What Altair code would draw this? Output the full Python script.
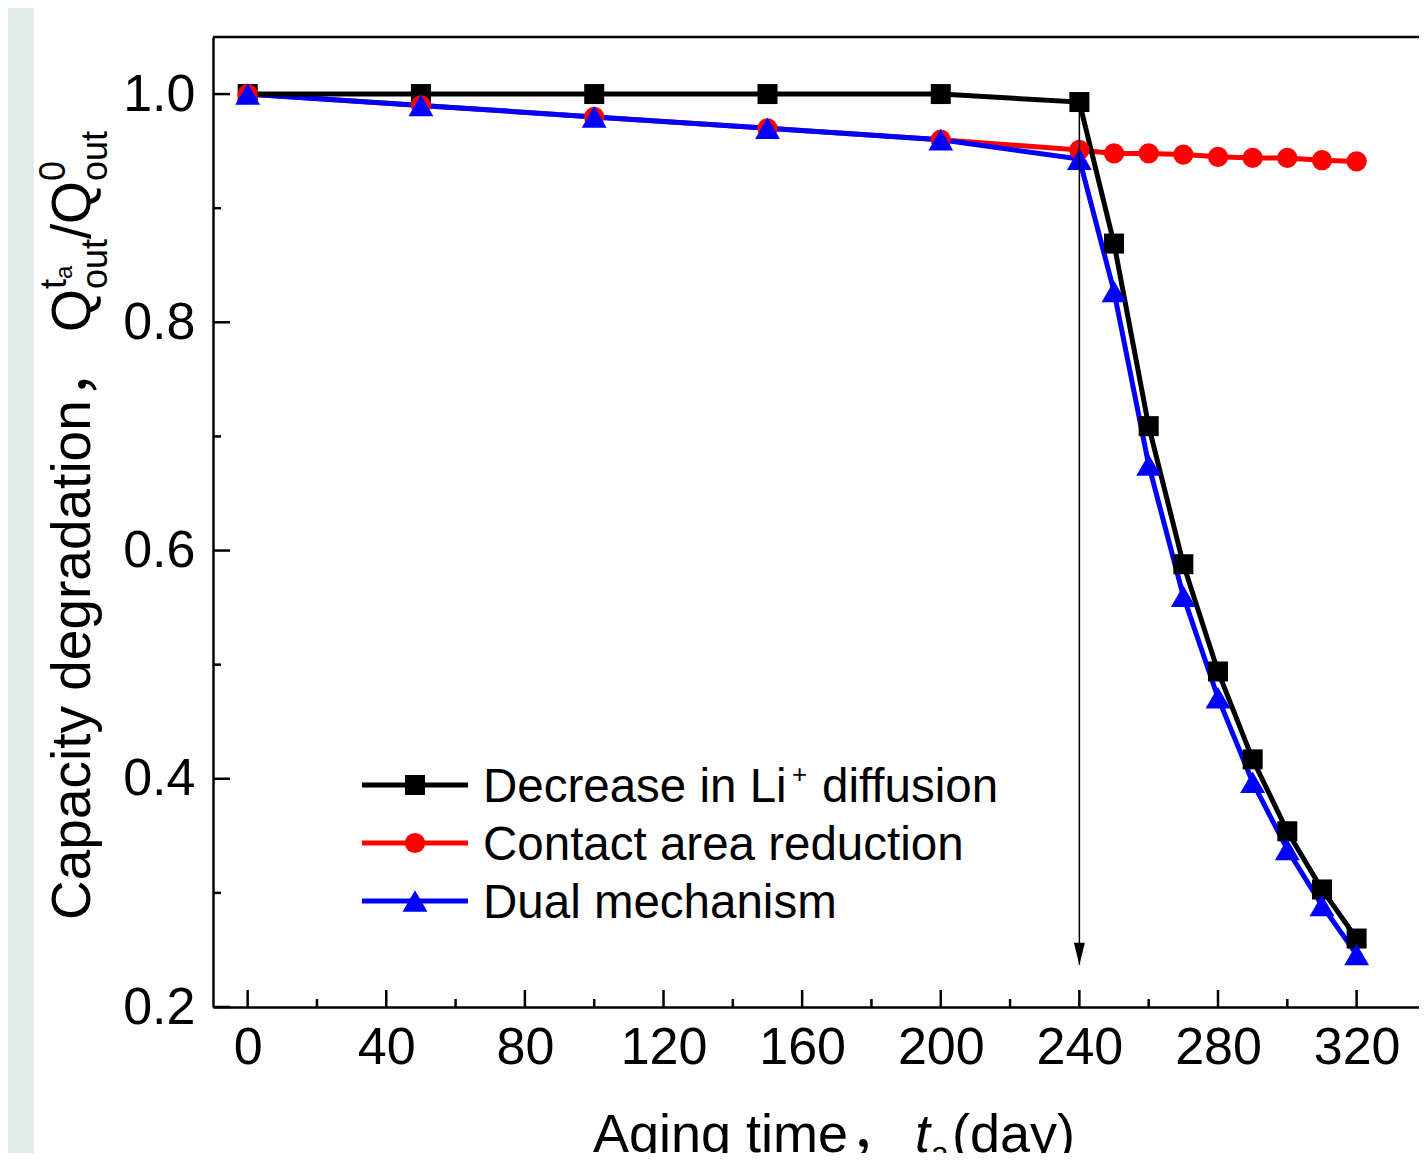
import altair as alt
import pandas as pd

# ---------------- data ----------------
days = [0, 50, 100, 150, 200, 240, 250, 260, 270, 280, 290, 300, 310, 320]
black_vals = [1.0, 1.0, 1.0, 1.0, 1.0, 0.993, 0.869, 0.709, 0.588, 0.494, 0.417, 0.354, 0.303, 0.260]
red_vals = [1.0, 0.990, 0.980, 0.970, 0.960, 0.951, 0.948, 0.948, 0.947, 0.945, 0.944, 0.944, 0.942, 0.941]
blue_vals = [1.0, 0.990, 0.980, 0.970, 0.960, 0.943, 0.827, 0.675, 0.560, 0.471, 0.397, 0.338, 0.289, 0.246]

series_names = ["Decrease in Li+ diffusion", "Contact area reduction", "Dual mechanism"]
series_colors = ["#000000", "#ff0000", "#0000ff"]
series_shapes = ["square", "circle", "triangle-up"]

x_ticks_major = [0, 40, 80, 120, 160, 200, 240, 280, 320]
x_ticks_minor = [20, 60, 100, 140, 180, 220, 260, 300]
y_ticks_major = [0.2, 0.4, 0.6, 0.8, 1.0]
y_ticks_minor = [0.3, 0.5, 0.7, 0.9]

arrow_day = [240]
arrow_top = [0.986]
arrow_tip = [0.237]

X_DOMAIN = [-10, 338]
Y_DOMAIN = [0.2, 1.05]
W, H = 1206, 970
FONT = "Liberation Sans"

# ---------------- scales / axes ----------------
xs = alt.Scale(domain=X_DOMAIN, nice=False, zero=False)
ys = alt.Scale(domain=Y_DOMAIN, nice=False, zero=False)
x_axis = alt.Axis(values=x_ticks_major, format="d", title=None, ticks=False,
                  labelPadding=15, labelFontSize=52, grid=False, zindex=1)
y_axis = alt.Axis(values=y_ticks_major, format=".1f", title=None, ticks=False,
                  labelPadding=18, labelFontSize=52, grid=False, zindex=1)


def X(field):
    return alt.X(field, type="quantitative", scale=xs, axis=x_axis)


def Y(field):
    return alt.Y(field, type="quantitative", scale=ys, axis=y_axis)


one = alt.Data(values=[{"k": 0}])

# white panel on top of greenish page background
panel = alt.Chart(one).mark_rect(color="white").encode(
    x=alt.value(34 - 213), x2=alt.value(W + 50),
    y=alt.value(-60), y2=alt.value(H + 300))

dfs = []
for name, vals in zip(series_names, [black_vals, red_vals, blue_vals]):
    dfs.append(pd.DataFrame({"day": days, "value": vals, "series": name}))


def line_layer(i):
    return alt.Chart(dfs[i]).mark_line(color=series_colors[i], strokeWidth=5).encode(
        x=X("day"), y=Y("value"))


def point_layer(i, size):
    return alt.Chart(dfs[i]).mark_point(
        shape=series_shapes[i], filled=True, opacity=1, size=size,
        color=series_colors[i], strokeWidth=0).encode(x=X("day"), y=Y("value"))


sizes = [400, 410, 620]

# ticks (drawn inward)
xmaj = pd.DataFrame({"day": x_ticks_major})
xmin = pd.DataFrame({"day": x_ticks_minor})
ymaj = pd.DataFrame({"value": y_ticks_major})
ymin = pd.DataFrame({"value": y_ticks_minor})
tick_layers = [
    alt.Chart(xmaj).mark_rule(color="black", strokeWidth=2.5).encode(
        x=X("day"), y=alt.value(H), y2=alt.value(H - 17)),
    alt.Chart(xmin).mark_rule(color="black", strokeWidth=2.5).encode(
        x=X("day"), y=alt.value(H), y2=alt.value(H - 8)),
    alt.Chart(ymaj).mark_rule(color="black", strokeWidth=2.5).encode(
        y=Y("value"), x=alt.value(0), x2=alt.value(17)),
    alt.Chart(ymin).mark_rule(color="black", strokeWidth=2.5).encode(
        y=Y("value"), x=alt.value(0), x2=alt.value(8)),
]

top_frame = alt.Chart(one).mark_rule(color="black", strokeWidth=2.5).encode(
    y=alt.value(0), x=alt.value(0), x2=alt.value(W + 20))

# arrow
arrow_df = pd.DataFrame({"day": arrow_day, "value": arrow_top, "value2": arrow_tip})
arrow_line = alt.Chart(arrow_df).mark_rule(color="black", strokeWidth=1.5).encode(
    x=X("day"), y=Y("value"), y2=alt.Y2("value2"))
arrow_head_df = pd.DataFrame({"day": arrow_day, "value": arrow_tip})
arrow_head = alt.Chart(arrow_head_df).mark_point(
    shape="M-0.5,-1L0.5,-1L0,1Z", size=484, filled=True, opacity=1,
    color="black", strokeWidth=0, yOffset=-11).encode(x=X("day"), y=Y("value"))

# legend (manual)
leg_rows = [765, 823, 881]
legend_layers = []
for i in range(3):
    cy = leg_rows[i] - 17
    legend_layers.append(alt.Chart(one).mark_rule(color=series_colors[i], strokeWidth=5).encode(
        x=alt.value(149), x2=alt.value(255), y=alt.value(cy)))
    legend_layers.append(alt.Chart(one).mark_point(
        shape=series_shapes[i], filled=True, opacity=1, size=sizes[i],
        color=series_colors[i], strokeWidth=0).encode(x=alt.value(202), y=alt.value(cy)))


def txt(s, x, y, size, angle=0, italic=False, baseline="alphabetic", font=FONT):
    kw = dict(text=s, fontSize=size, font=font, color="black", align="left",
              baseline=baseline)
    if angle:
        kw["angle"] = angle
    if italic:
        kw["fontStyle"] = "italic"
    return alt.Chart(one).mark_text(**kw).encode(x=alt.value(x), y=alt.value(y))


LF = 47.5
legend_texts = [
    txt("Decrease in Li", 270, leg_rows[0], LF),
    txt("+", 579, leg_rows[0] - 19, 26),
    txt("diffusion", 609, leg_rows[0], LF),
    txt("Contact area reduction", 270, leg_rows[1], LF),
    txt("Dual mechanism", 270, leg_rows[2], LF),
]

# axis titles built from pieces (page coords minus plot origin 213, 37)
OX, OY = 213, 37
ytitle = [
    txt("Capacity degradation", 90 - OX, 920 - OY, 55, angle=270),
    txt("，", 90 - OX, 398 - OY, 55, angle=270, font="Noto Sans CJK SC"),
    txt("Q", 90 - OX, 332 - OY, 55, angle=270),
    txt("out", 107 - OX, 289 - OY, 36, angle=270),
    txt("t", 66 - OX, 289 - OY, 36, angle=270),
    txt("a", 72 - OX, 279 - OY, 24, angle=270),
    txt("/", 90 - OX, 239 - OY, 55, angle=270),
    txt("Q", 90 - OX, 224 - OY, 55, angle=270),
    txt("out", 107 - OX, 181 - OY, 36, angle=270),
    txt("0", 65 - OX, 181 - OY, 36, angle=270),
]
xtitle = [
    txt("Aging time", 593 - OX, 1152 - OY, 54),
    txt("，", 850 - OX, 1152 - OY, 54, font="Noto Sans CJK SC"),
    txt("t", 915 - OX, 1152 - OY, 54, italic=True),
    txt("a", 931 - OX, 1164 - OY, 32),
    txt("(day)", 952 - OX, 1152 - OY, 54),
]

layers = ([panel, top_frame] + tick_layers +
          [line_layer(1), line_layer(2), line_layer(0),
           point_layer(0, sizes[0]), point_layer(1, sizes[1]), point_layer(2, sizes[2]),
           arrow_line, arrow_head] +
          legend_layers + legend_texts + ytitle + xtitle)

chart = alt.layer(*layers).properties(
    width=W, height=H,
    autosize=alt.AutoSizeParams(type="none"),
    padding={"left": 205, "top": 29, "right": 0, "bottom": 146},
).configure(background="#e1ebe7").configure_view(stroke=None).configure_axis(
    domainColor="black", domainWidth=2.5, labelColor="black", labelFont=FONT,
    labelFontSize=52,
)

chart.save("out.html", embed_options={"renderer": "svg", "actions": False})
